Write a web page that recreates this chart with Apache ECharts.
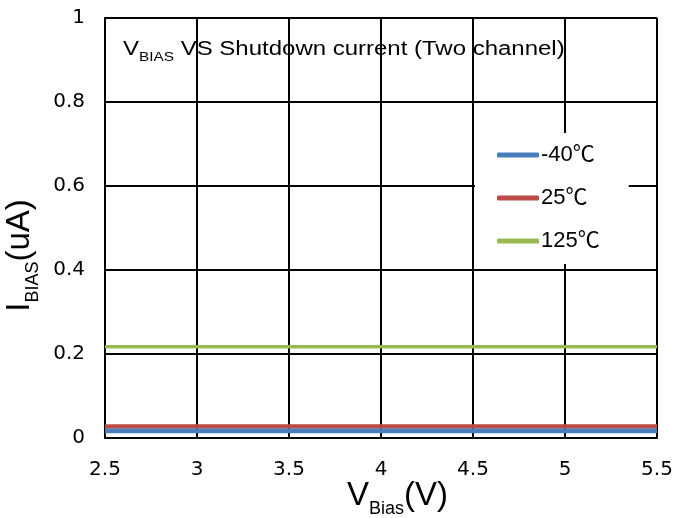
<!DOCTYPE html>
<html><head><meta charset="utf-8">
<script src="https://cdn.jsdelivr.net/npm/echarts@6/dist/echarts.min.js"></script>
<style>html,body{margin:0;padding:0;background:#fff}#c{width:674px;height:518px}</style>
</head><body><div id="c"></div>
<script>
const xValues = [2.5, 3, 3.5, 4, 4.5, 5, 5.5];
const seriesNames = ['-40\u2103', '25\u2103', '125\u2103'];
const seriesM40 = [0.017, 0.017, 0.017, 0.017, 0.017, 0.017, 0.017];
const series25 = [0.028, 0.028, 0.028, 0.028, 0.028, 0.028, 0.028];
const series125 = [0.217, 0.217, 0.217, 0.217, 0.217, 0.217, 0.217];
const colors = ['#4a7ebb', '#be4b48', '#98b954'];
const widths = [5, 4, 3.5];

const font = 'Liberation Sans, Arial, sans-serif';
const tickFont = 'DejaVu Sans, sans-serif';
const legendFont = 'Liberation Sans, "Noto Sans CJK SC", sans-serif';
const chart = echarts.init(document.getElementById('c'));
const data = [seriesM40, series25, series125];
const nameRich = {
  v: {fontSize: 33, fontFamily: font, color: '#000', verticalAlign: 'bottom', lineHeight: 36},
  s: {fontSize: 18, fontFamily: font, color: '#000', verticalAlign: 'bottom', lineHeight: 36, padding: [0, 0, -6, 0]}
};
chart.setOption({
  animation: false,
  backgroundColor: '#fff',
  grid: {left: 105, right: 17, top: 18, bottom: 80, containLabel: false, outerBoundsMode: 'none'},
  graphic: [{
    type: 'text', x: 123, y: 38, scaleX: 1.23, z: 10,
    style: {
      text: '{v|V}{s|BIAS}{v| VS Shutdown current (Two channel)}',
      rich: {
        v: {fontSize: 19.5, fontFamily: font, fill: '#000', verticalAlign: 'bottom', lineHeight: 22},
        s: {fontSize: 12.5, fontFamily: font, fill: '#000', verticalAlign: 'bottom', lineHeight: 22, padding: [0, 0, -4, 0]}
      }
    }
  }],
  legend: {
    orient: 'vertical', left: 475, top: 133,
    backgroundColor: '#fff', padding: [11, 29, 12, 22],
    itemWidth: 42, itemHeight: 5, itemGap: 21,
    icon: 'roundRect',
    textStyle: {fontSize: 22, fontFamily: legendFont, color: '#000', padding: [0, 0, 0, -3]},
    data: seriesNames
  },
  xAxis: {
    type: 'value', min: 2.5, max: 5.5, interval: 0.5,
    name: '{v|V}{s|Bias}{v|(V)}', nameLocation: 'middle', nameGap: 38, nameMoveOverlap: false,
    nameTextStyle: {padding: [0, 0, 0, 33], rich: nameRich},
    axisLine: {lineStyle: {color: '#000', width: 2}},
    axisTick: {show: false},
    axisLabel: {fontSize: 20, fontFamily: tickFont, color: '#000', margin: 22},
    splitLine: {show: true, lineStyle: {color: '#000', width: 2}}
  },
  yAxis: {
    type: 'value', min: 0, max: 1, interval: 0.2,
    name: '{v|I}{s|BIAS}{v|(uA)}', nameLocation: 'middle', nameGap: 67, nameRotate: 90,
    nameTextStyle: {padding: [0, 55, 0, 0], rich: nameRich},
    axisLine: {show: true, lineStyle: {color: '#000', width: 2}},
    axisTick: {show: false},
    axisLabel: {fontSize: 20, fontFamily: tickFont, color: '#000', margin: 20},
    splitLine: {show: true, lineStyle: {color: '#000', width: 2}}
  },
  series: seriesNames.map((n, i) => ({
    name: n, type: 'line', showSymbol: false, symbol: 'none',
    data: xValues.map((x, j) => [x, data[i][j]]),
    lineStyle: {color: colors[i], width: widths[i]},
    itemStyle: {color: colors[i]},
    z: 3 + i
  }))
});
</script></body></html>
